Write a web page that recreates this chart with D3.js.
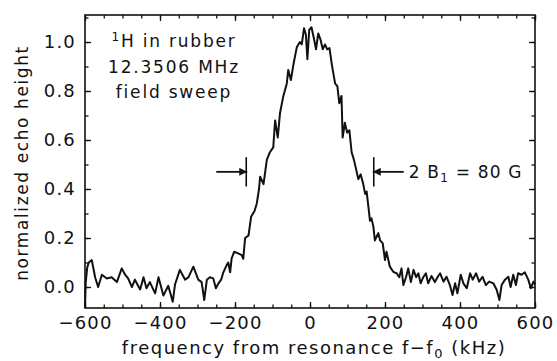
<!DOCTYPE html>
<html>
<head>
<meta charset="utf-8">
<script src="https://cdn.jsdelivr.net/npm/d3@7"></script>
<style>
  body { margin: 0; background: #fff; }
  svg text { font-family: "DejaVu Sans", sans-serif; fill: #111; }
</style>
</head>
<body>
<div id="container"></div>
<script>
/* CONSTANTS AND GLOBALS */
const width = 557,
  height = 361,
  margin = { top: 15, bottom: 53, left: 85, right: 22 }

// frequency offset f - f0 (kHz) and normalized echo height
const freq = [
  -600, -598, -594, -590, -582, -573, -565, -555, -542, -529, -515, -502, -493, -485,
  -475, -467, -453, -444, -436, -427, -413, -404, -391, -378, -366, -360, -347, -333,
  -324, -311, -298, -289, -282, -275, -267, -258, -251, -244, -237, -231, -222, -218,
  -213, -209, -202, -196, -189, -182, -178, -173, -164, -157, -148, -142, -136, -133,
  -124, -115, -107, -98, -93, -86, -80, -71, -62, -58, -51, -44, -35, -27,
  -22, -16, -11, -7, -2, 4, 11, 16, 22, 28, 34, 40, 46, 52,
  58, 67, 73, 78, 84, 87, 93, 99, 105, 111, 117, 123, 129, 135,
  142, 147, 151, 160, 164, 169, 173, 182, 187, 194, 200, 204, 213, 222,
  231, 238, 244, 249, 256, 262, 269, 276, 283, 289, 295, 302, 309, 315,
  324, 333, 342, 347, 356, 364, 373, 380, 387, 393, 402, 409, 418, 427,
  434, 443, 451, 460, 469, 478, 489, 498, 505, 511, 520, 529, 535, 542,
  549, 555, 564, 573, 582, 589, 596, 600
]
const echo = [
  -0.086, 0.02, 0.08, 0.10, 0.11, 0.04, 0.00, 0.05, 0.035, 0.04, 0.02, 0.076, 0.05, 0.035,
  0.0, 0.03, -0.01, 0.04, -0.005, 0.02, -0.026, 0.04, -0.035, 0.005, -0.06, 0.01, 0.07, 0.03,
  0.04, 0.083, 0.03, 0.02, -0.053, 0.03, 0.04, 0.035, -0.005, 0.015, 0.03, 0.06, 0.09, 0.10,
  0.06, 0.117, 0.144, 0.14, 0.135, 0.13, 0.115, 0.20, 0.21, 0.287, 0.31, 0.34, 0.40, 0.45,
  0.42, 0.52, 0.55, 0.57, 0.68, 0.61, 0.71, 0.78, 0.83, 0.886, 0.845, 0.91, 0.98, 1.00,
  0.99, 1.056, 1.03, 0.93, 1.05, 1.06, 1.01, 0.97, 1.035, 1.01, 0.97, 0.99, 0.97, 0.975,
  0.91, 0.83, 0.82, 0.75, 0.78, 0.61, 0.67, 0.63, 0.64, 0.55, 0.52, 0.48, 0.44, 0.46,
  0.42, 0.38, 0.39, 0.27, 0.28, 0.246, 0.19, 0.22, 0.19, 0.178, 0.11, 0.144, 0.083, 0.062,
  0.056, 0.04, 0.076, 0.008, 0.04, 0.076, 0.02, 0.07, 0.04, 0.056, 0.015, 0.04, 0.056, 0.015,
  0.045, 0.02, 0.045, 0.056, 0.022, 0.042, 0.008, -0.033, 0.015, -0.026, 0.05, 0.015, -0.005, 0.056,
  0.03, 0.056, 0.022, 0.042, 0.008, 0.022, 0.015, -0.012, -0.053, 0.008, 0.03, 0.042, 0.0, 0.05,
  0.008, 0.056, 0.05, 0.06, 0.03, -0.005, 0.022, 0.01
]

const xTicks = [-600, -400, -200, 0, 200, 400, 600]
const yTicks = [0.0, 0.2, 0.4, 0.6, 0.8, 1.0]

// 2B1 width markers (kHz) and their vertical extent / arrow height
const markerFreq = [-170, 170]
const markerSpan = [0.41, 0.53]
const arrowLevel = 0.47

const data = freq.map((f, i) => ({ f: f, v: echo[i] }))

/* SCALES */
const xScale = d3.scaleLinear()
  .domain([-600, 600])
  .range([margin.left, width - margin.right])

const yScale = d3.scaleLinear()
  .domain([-0.0857, 1.1102])
  .range([height - margin.bottom, margin.top])

/* SVG */
const svg = d3.select("#container")
  .append("svg")
  .attr("width", width)
  .attr("height", height)

svg.append("defs").append("marker")
  .attr("id", "head")
  .attr("viewBox", "0 0 10 10")
  .attr("refX", 10)
  .attr("refY", 5)
  .attr("markerWidth", 15)
  .attr("markerHeight", 8)
  .attr("markerUnits", "userSpaceOnUse")
  .attr("orient", "auto")
  .append("path")
  .attr("d", "M0,0 L10,5 L0,10 Z")
  .attr("fill", "#111")

/* AXES */
const xMinor = d3.range(-600, 601, 50)
const yMinor = d3.range(0, 1.11, 0.1)

const tickStyle = g => {
  g.select(".domain").remove()
  g.selectAll("line").attr("stroke", "#111").attr("stroke-width", 1.3)
  g.selectAll("text")
    .style("font-size", "18px")
    .style("letter-spacing", "1.2px")
    .attr("fill", "#111")
}

// minor ticks on all four sides
svg.append("g")
  .attr("transform", `translate(0, ${height - margin.bottom})`)
  .call(d3.axisBottom(xScale).tickValues(xMinor).tickSize(-3.5).tickFormat(""))
  .call(tickStyle)
svg.append("g")
  .attr("transform", `translate(0, ${margin.top})`)
  .call(d3.axisTop(xScale).tickValues(xMinor).tickSize(-3.5).tickFormat(""))
  .call(tickStyle)
svg.append("g")
  .attr("transform", `translate(${margin.left}, 0)`)
  .call(d3.axisLeft(yScale).tickValues(yMinor).tickSize(-3.5).tickFormat(""))
  .call(tickStyle)
svg.append("g")
  .attr("transform", `translate(${width - margin.right}, 0)`)
  .call(d3.axisRight(yScale).tickValues(yMinor).tickSize(-3.5).tickFormat(""))
  .call(tickStyle)

// major ticks with labels
const xAxisGroup = svg.append("g")
  .attr("class", "xAxis")
  .attr("transform", `translate(0, ${height - margin.bottom})`)
  .call(d3.axisBottom(xScale).tickValues(xTicks).tickSize(-6).tickPadding(8)
    .tickFormat(d => d3.format(".0f")(d).replace("-", "\u2212")))
  .call(tickStyle)

svg.append("g")
  .attr("transform", `translate(0, ${margin.top})`)
  .call(d3.axisTop(xScale).tickValues(xTicks).tickSize(-6).tickFormat(""))
  .call(tickStyle)

const yAxisGroup = svg.append("g")
  .attr("class", "yAxis")
  .attr("transform", `translate(${margin.left}, 0)`)
  .call(d3.axisLeft(yScale).tickValues(yTicks).tickSize(-6).tickPadding(9)
    .tickFormat(d3.format(".1f")))
  .call(tickStyle)

svg.append("g")
  .attr("transform", `translate(${width - margin.right}, 0)`)
  .call(d3.axisRight(yScale).tickValues(yTicks).tickSize(-6).tickFormat(""))
  .call(tickStyle)

// frame
svg.append("rect")
  .attr("x", margin.left)
  .attr("y", margin.top)
  .attr("width", width - margin.left - margin.right)
  .attr("height", height - margin.top - margin.bottom)
  .attr("fill", "none")
  .attr("stroke", "#111")
  .attr("stroke-width", 1.6)

// axis titles
const xLabel = svg.append("text")
  .attr("x", (margin.left + width - margin.right) / 2 + 4)
  .attr("y", 354)
  .attr("text-anchor", "middle")
  .style("font-size", "18px")
  .style("letter-spacing", "1.5px")
xLabel.append("tspan").text("frequency from resonance  f\u2212f")
xLabel.append("tspan").attr("dy", 4).style("font-size", "13px").text("0")
xLabel.append("tspan").attr("dy", -4).text("  (kHz)")

svg.append("text")
  .attr("transform", "rotate(-90)")
  .attr("x", -163)
  .attr("y", 28)
  .attr("text-anchor", "middle")
  .style("font-size", "17px")
  .style("letter-spacing", "1.6px")
  .text("normalized echo height")

/* LINE */
const lineGen = d3.line()
  .x(d => xScale(d.f))
  .y(d => yScale(d.v))

svg.selectAll(".line")
  .data([data])
  .join("path")
  .attr("class", "line")
  .attr("fill", "none")
  .attr("stroke", "#111")
  .attr("stroke-width", 2)
  .attr("stroke-linejoin", "round")
  .attr("d", d => lineGen(d))

/* 2B1 MARKERS */
markerFreq.forEach((f, i) => {
  svg.append("line")
    .attr("x1", xScale(f)).attr("x2", xScale(f))
    .attr("y1", yScale(markerSpan[0])).attr("y2", yScale(markerSpan[1]))
    .attr("stroke", "#111").attr("stroke-width", 1.6)
  const dir = i === 0 ? -1 : 1
  svg.append("line")
    .attr("x1", xScale(f) + dir * 30).attr("x2", xScale(f) - dir * 1)
    .attr("y1", yScale(arrowLevel)).attr("y2", yScale(arrowLevel))
    .attr("stroke", "#111").attr("stroke-width", 1.8)
    .attr("marker-end", "url(#head)")
})

const bLabel = svg.append("text")
  .attr("x", xScale(markerFreq[1]) + 35)
  .attr("y", yScale(arrowLevel) + 6)
  .style("font-size", "17px")
  .style("letter-spacing", "1.2px")
bLabel.append("tspan").text("2 B")
bLabel.append("tspan").attr("dy", 4).style("font-size", "12px").text("1")
bLabel.append("tspan").attr("dy", -4).text(" = 80 G")

/* SAMPLE LABEL */
const info = svg.append("text")
  .attr("x", 174)
  .attr("y", 47)
  .attr("text-anchor", "middle")
  .style("font-size", "17px")
  .style("letter-spacing", "1.8px")
info.append("tspan").attr("dy", -6).style("font-size", "12px").text("1")
info.append("tspan").attr("dy", 6).text("H in rubber")
info.append("tspan").attr("x", 174).attr("dy", 26).text("12.3506 MHz")
info.append("tspan").attr("x", 174).attr("dy", 25).text("field sweep")
</script>
</body>
</html>
